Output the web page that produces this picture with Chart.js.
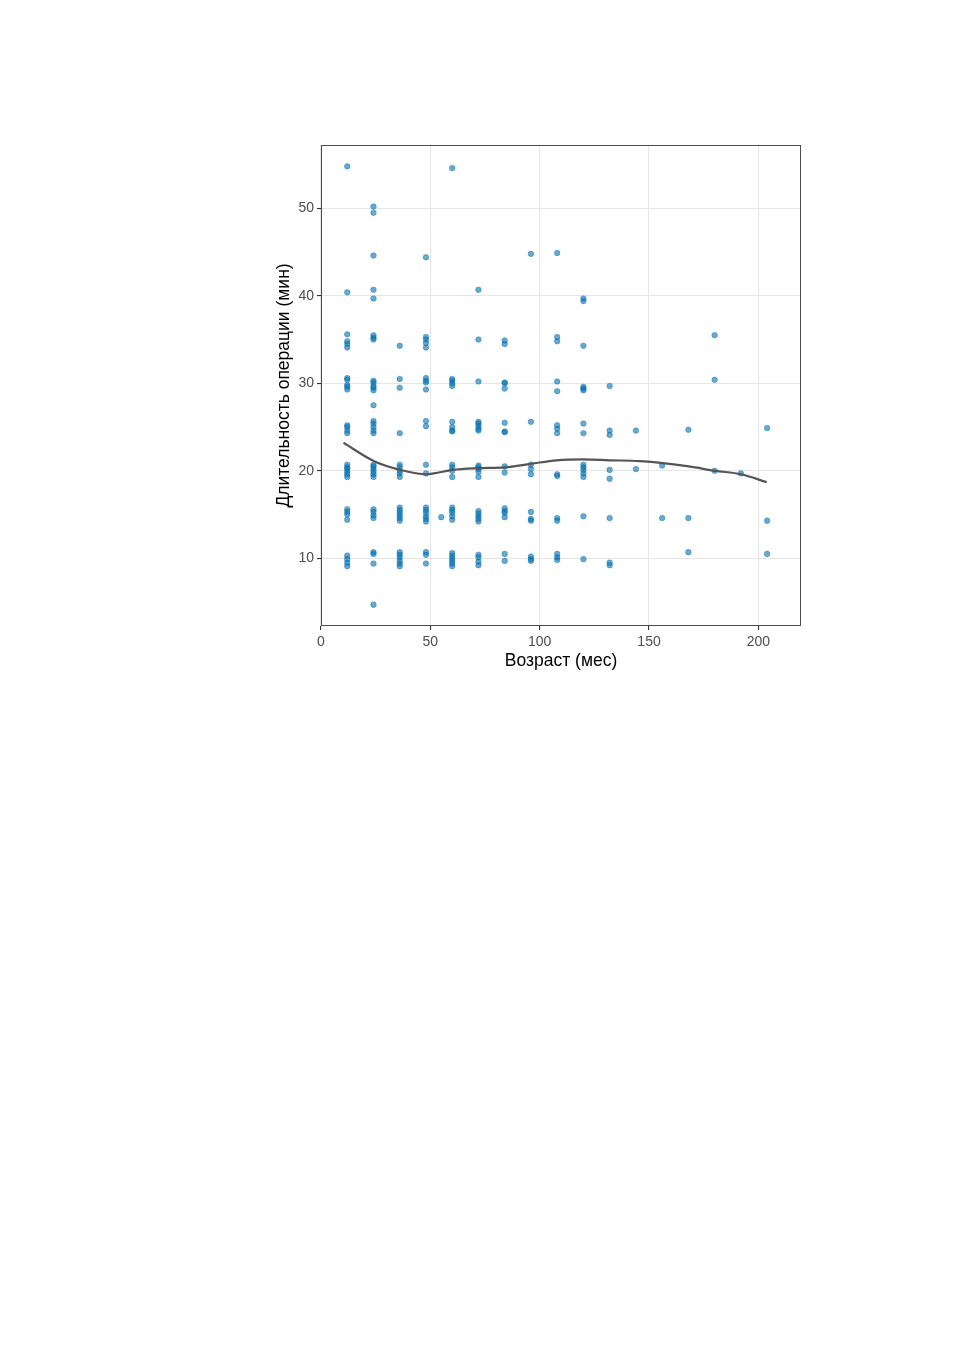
<!DOCTYPE html>
<html>
<head>
<meta charset="utf-8">
<script src="https://cdn.jsdelivr.net/npm/chart.js@4/dist/chart.umd.min.js"></script>
<style>
  body { margin: 0; background: #fff; }
</style>
</head>
<body>
<canvas id="myChart" width="954" height="1350"></canvas>
<script>
// возраст (мес) - группы
const ageGroups = [12, 24, 36, 48, 55, 60, 72, 84, 96, 108, 120, 132, 144, 156, 168, 180, 192, 204];
// длительность операции (мин) для каждой группы
const durationsByAge = [
    [54.8, 40.4, 35.6, 34.8, 34.5, 34.1, 30.6, 30.4, 29.8, 29.6, 29.3, 25.2, 25.0, 24.6, 24.3, 20.7, 20.4, 20.2, 19.9, 19.6, 19.3, 15.6, 15.3, 15.0, 14.4, 10.3, 9.9, 9.5, 9.1],
    [50.2, 49.5, 44.6, 40.7, 39.7, 35.5, 35.2, 35.0, 30.3, 30.1, 29.7, 29.5, 29.2, 27.5, 25.7, 25.4, 25.0, 24.6, 24.3, 20.7, 20.5, 20.2, 19.9, 19.6, 19.3, 15.6, 15.3, 14.9, 14.6, 10.7, 10.5, 9.4, 4.7],
    [34.3, 30.5, 29.5, 24.3, 20.7, 20.4, 20.0, 19.7, 19.3, 15.8, 15.5, 15.2, 14.9, 14.6, 14.3, 10.7, 10.4, 10.1, 9.7, 9.4, 9.1],
    [44.4, 35.3, 35.0, 34.6, 34.1, 30.6, 30.3, 30.1, 29.3, 25.7, 25.1, 20.7, 19.7, 15.8, 15.5, 15.2, 14.8, 14.5, 14.2, 10.7, 10.4, 9.4],
    [14.7],
    [54.6, 30.5, 30.3, 30.0, 29.7, 25.6, 25.0, 24.6, 24.5, 20.7, 20.4, 20.0, 19.3, 15.8, 15.5, 15.2, 14.8, 14.4, 10.6, 10.3, 10.0, 9.7, 9.4, 9.1],
    [40.7, 35.0, 30.2, 25.6, 25.4, 25.1, 24.8, 24.6, 20.6, 20.4, 20.2, 19.9, 19.3, 15.4, 15.1, 14.8, 14.5, 14.2, 10.4, 10.1, 9.6, 9.2],
    [34.9, 34.5, 30.1, 30.0, 29.4, 25.5, 24.5, 24.4, 20.5, 19.8, 15.7, 15.4, 15.2, 14.7, 10.5, 9.7],
    [44.8, 25.6, 20.7, 20.2, 19.6, 15.3, 14.5, 14.3, 10.2, 9.9, 9.7],
    [44.9, 35.3, 34.8, 30.2, 29.1, 25.2, 24.8, 24.3, 19.6, 19.4, 14.6, 14.3, 10.5, 10.1, 9.8],
    [39.7, 39.4, 34.3, 29.6, 29.4, 29.2, 25.4, 24.3, 20.7, 20.4, 20.1, 19.7, 19.3, 14.8, 9.9],
    [29.7, 24.6, 24.1, 20.1, 19.1, 14.6, 9.5, 9.2],
    [24.6, 20.2],
    [20.6, 14.6],
    [24.7, 14.6, 10.7],
    [35.5, 30.4, 20.0],
    [19.7],
    [24.9, 14.3, 10.5]
];
// сглаживающая кривая (loess)
const smoothAge = [10.3, 24.3, 36.4, 48.0, 51.6, 60.2, 71.6, 84.1, 96, 107.8, 120, 132, 145.9, 168.3, 180.2, 192.1, 203.8];
const smoothDuration = [23.2, 21.1, 20.1, 19.6, 19.7, 20.1, 20.3, 20.4, 20.8, 21.2, 21.3, 21.2, 21.1, 20.5, 20.0, 19.6, 18.7];

const xTicks = [0, 50, 100, 150, 200];
const yTicks = [10, 20, 30, 40, 50];

let points = [];
ageGroups.forEach((age, i) => {
    durationsByAge[i].forEach(d => points.push({x: age, y: d}));
});
const smoothPoints = smoothAge.map((a, i) => ({x: a, y: smoothDuration[i]}));

const fontFamily = '"Liberation Sans", Arial, sans-serif';

const panelBorder = {
    id: 'panelBorder',
    afterDraw(chart) {
        const a = chart.chartArea;
        const c = chart.ctx;
        c.save();
        c.strokeStyle = '#4d4d4d';
        c.lineWidth = 1;
        c.strokeRect(a.left + 0.5, a.top + 0.5, a.right - a.left - 1, a.bottom - a.top - 1);
        c.restore();
    }
};

new Chart(document.getElementById('myChart'), {
    type: 'scatter',
    data: {
        datasets: [{
            type: 'line',
            data: smoothPoints,
            borderColor: '#555555',
            borderWidth: 2.2,
            pointRadius: 0,
            fill: false,
            cubicInterpolationMode: 'monotone'
        }, {
            data: points,
            backgroundColor: 'rgba(0, 114, 178, 0.6)',
            borderColor: 'rgba(0, 100, 165, 0.6)',
            borderWidth: 0.6,
            pointRadius: 2.8
        }]
    },
    options: {
        responsive: false,
        animation: false,
        layout: { padding: { left: 270, top: 145, right: 153, bottom: 674 } },
        plugins: { legend: { display: false }, tooltip: { enabled: false } },
        scales: {
            x: {
                type: 'linear',
                min: 0,
                max: 219.5,
                afterBuildTicks: s => { s.ticks = xTicks.map(v => ({value: v})); },
                afterFit: s => { s.height = 50; },
                grid: { color: '#E6E6E6', tickColor: '#333333', tickLength: 4, lineWidth: 1.1 },
                border: { display: false },
                ticks: { color: '#4D4D4D', font: { family: fontFamily, size: 14 }, padding: 4, maxRotation: 0 },
                title: { display: true, text: 'Возраст (мес)', color: '#000', font: { family: fontFamily, size: 17.5 }, padding: { top: 2, bottom: 4 } }
            },
            y: {
                min: 2.26,
                max: 57.24,
                afterBuildTicks: s => { s.ticks = yTicks.map(v => ({value: v})); },
                afterFit: s => { s.width = 51; },
                grid: { color: '#E6E6E6', tickColor: '#333333', tickLength: 4, lineWidth: 1.1 },
                border: { display: false },
                ticks: { color: '#4D4D4D', font: { family: fontFamily, size: 14 }, padding: 3 },
                title: { display: true, text: 'Длительность операции (мин)', color: '#000', font: { family: fontFamily, size: 17.5 } }
            }
        }
    },
    plugins: [panelBorder]
});
</script>
</body>
</html>
